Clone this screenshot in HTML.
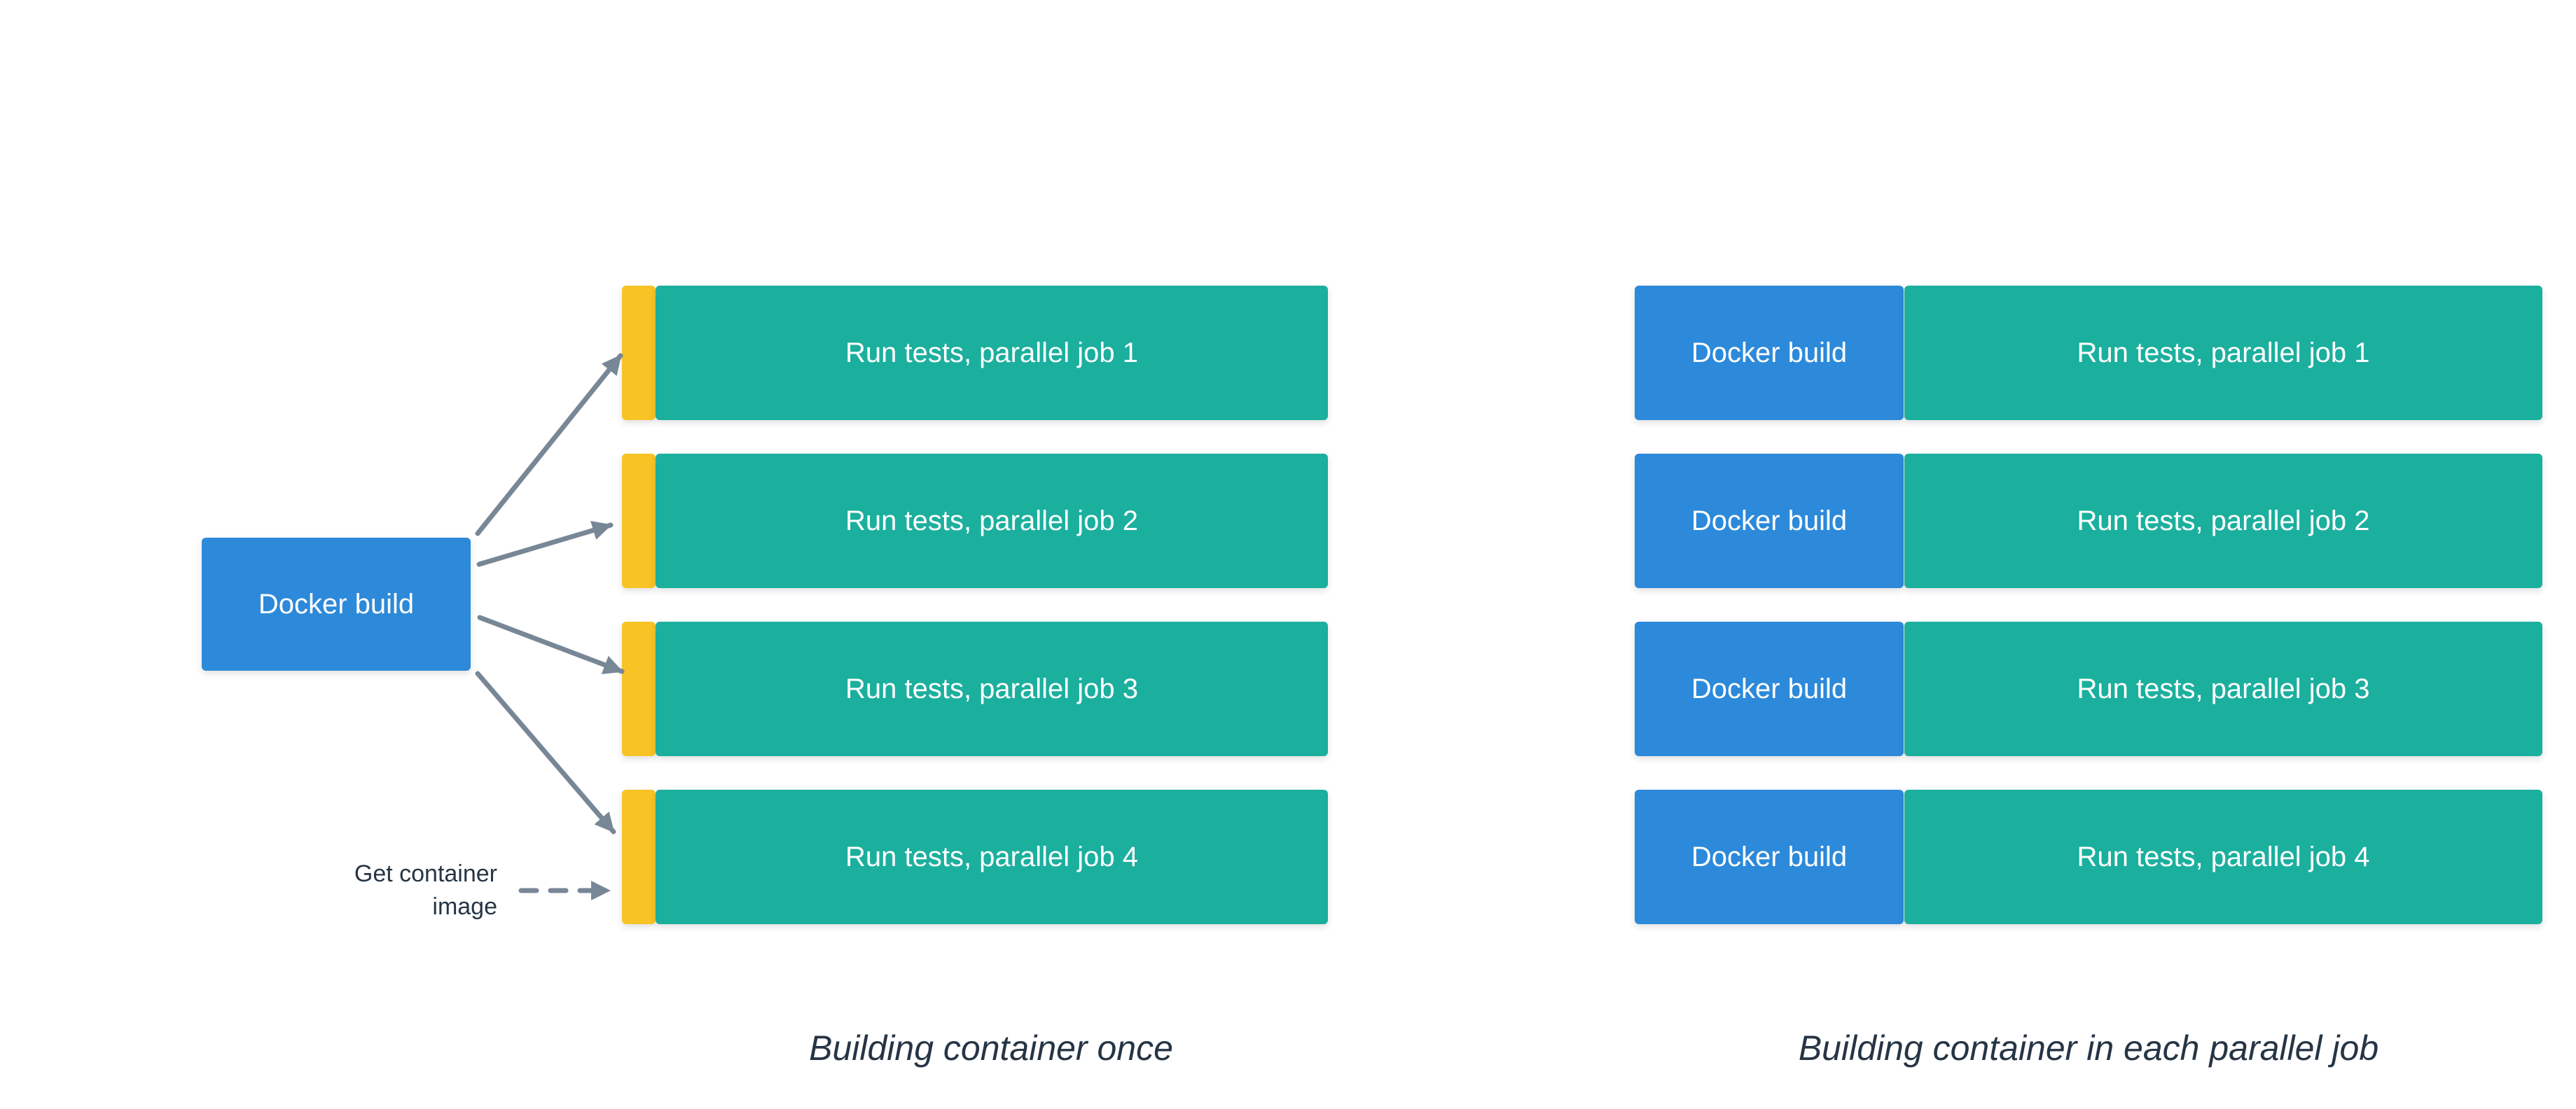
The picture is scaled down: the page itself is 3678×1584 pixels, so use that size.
<!DOCTYPE html>
<html><head><meta charset="utf-8"><style>
html,body{margin:0;padding:0;background:#fff;}
body{width:3678px;height:1584px;position:relative;overflow:hidden;font-family:"Liberation Sans",sans-serif;}
.b{position:absolute;display:flex;align-items:center;justify-content:center;color:#fff;font-size:40px;border-radius:6px;box-shadow:0 4px 10px rgba(0,0,0,0.12);}
.blue{background:#2d89d9;}
.teal{background:#1baf9e;}
.yel{background:#f7c325;}
.cap{position:absolute;font-style:italic;font-size:50px;color:#263545;text-align:center;width:1200px;}
.lbl{position:absolute;font-size:34px;color:#263545;text-align:right;line-height:47px;}
</style></head><body>
<div class="b blue" style="left:288px;top:768px;width:384px;height:190px;">Docker build</div>

<div class="b yel" style="left:888px;top:408px;width:48px;height:192px;"></div>
<div class="b teal" style="left:936px;top:408px;width:960px;height:192px;">Run tests, parallel job 1</div>
<div class="b yel" style="left:888px;top:648px;width:48px;height:192px;"></div>
<div class="b teal" style="left:936px;top:648px;width:960px;height:192px;">Run tests, parallel job 2</div>
<div class="b yel" style="left:888px;top:888px;width:48px;height:192px;"></div>
<div class="b teal" style="left:936px;top:888px;width:960px;height:192px;">Run tests, parallel job 3</div>
<div class="b yel" style="left:888px;top:1128px;width:48px;height:192px;"></div>
<div class="b teal" style="left:936px;top:1128px;width:960px;height:192px;">Run tests, parallel job 4</div>

<div class="b blue" style="left:2334px;top:408px;width:384px;height:192px;">Docker build</div>
<div class="b teal" style="left:2719px;top:408px;width:911px;height:192px;">Run tests, parallel job 1</div>
<div class="b blue" style="left:2334px;top:648px;width:384px;height:192px;">Docker build</div>
<div class="b teal" style="left:2719px;top:648px;width:911px;height:192px;">Run tests, parallel job 2</div>
<div class="b blue" style="left:2334px;top:888px;width:384px;height:192px;">Docker build</div>
<div class="b teal" style="left:2719px;top:888px;width:911px;height:192px;">Run tests, parallel job 3</div>
<div class="b blue" style="left:2334px;top:1128px;width:384px;height:192px;">Docker build</div>
<div class="b teal" style="left:2719px;top:1128px;width:911px;height:192px;">Run tests, parallel job 4</div>

<svg style="position:absolute;left:0;top:0" width="3678" height="1584">
<defs><marker id="a" markerUnits="userSpaceOnUse" markerWidth="32" markerHeight="32" refX="26" refY="16" orient="auto"><path d="M0,2 L28,16 L0,30 Z" fill="#788796"/></marker></defs>
<g stroke="#788796" stroke-width="7" stroke-linecap="round" fill="none">
<line x1="682" y1="762" x2="886" y2="508" marker-end="url(#a)"/>
<line x1="684" y1="806" x2="872" y2="750" marker-end="url(#a)"/>
<line x1="685" y1="882" x2="888" y2="959" marker-end="url(#a)"/>
<line x1="682" y1="962" x2="876" y2="1188" marker-end="url(#a)"/>
<line x1="744" y1="1272" x2="870" y2="1272" stroke-dasharray="22,20" marker-end="url(#a)"/>
</g>
</svg>

<div class="lbl" style="left:400px;top:1225px;width:310px;">Get container<br>image</div>

<div class="cap" style="left:815px;top:1468px;">Building container once</div>
<div class="cap" style="left:2382px;top:1468px;">Building container in each parallel job</div>
</body></html>
